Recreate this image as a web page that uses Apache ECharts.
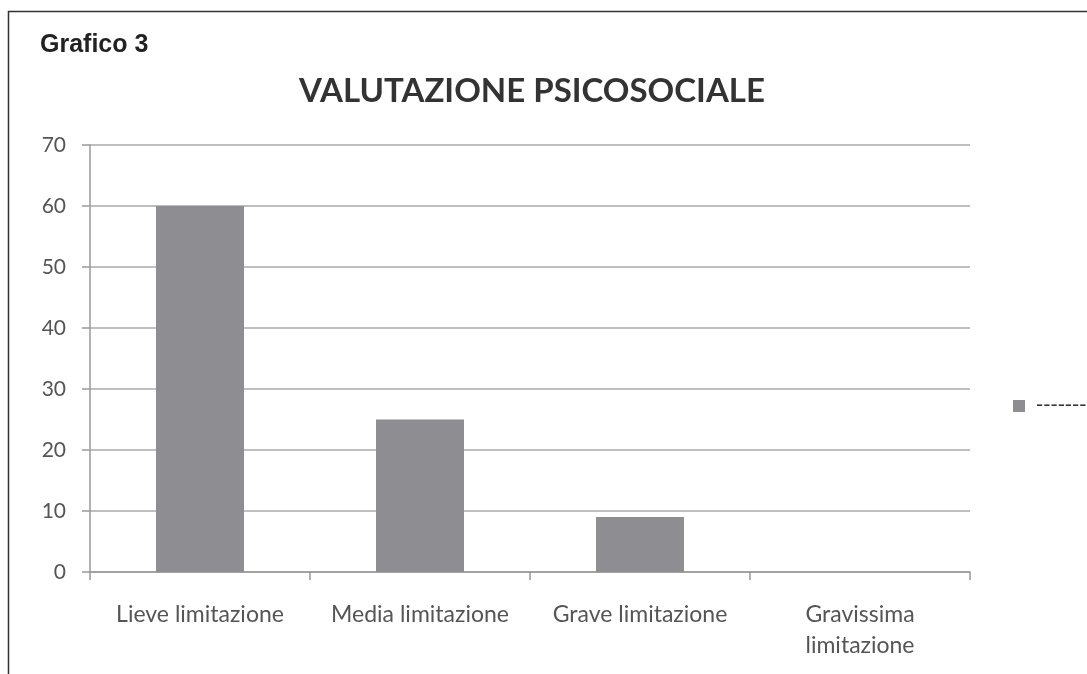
<!DOCTYPE html>
<html><head><meta charset="utf-8">
<script src="https://cdn.jsdelivr.net/npm/echarts@6/dist/echarts.min.js"></script>
<style>html,body{margin:0;padding:0;background:#fff}#c{width:1087px;height:674px}</style>
</head><body><div id="c"></div>
<script>
const categories = ['Lieve limitazione', 'Media limitazione', 'Grave limitazione', 'Gravissima\nlimitazione'];
const values = [60, 25, 9, 0];
const seriesName = '----------';
const chart = echarts.init(document.getElementById('c'));
chart.setOption({
  backgroundColor: '#fff',
  animation: false,
  title: [{
    text: 'Grafico 3', left: 35, top: 28,
    textStyle: {fontFamily: 'Liberation Sans', fontWeight: 'bold', fontSize: 25, color: '#222'}
  }, {
    text: 'VALUTAZIONE PSICOSOCIALE', left: 527, top: 70, textAlign: 'center',
    textStyle: {fontFamily: 'Lato', fontWeight: 'bold', fontSize: 33, color: '#333'}
  }],
  graphic: [{type: 'rect', shape: {x: 8.5, y: 11.5, width: 1200, height: 800}, style: {fill: 'none', stroke: '#333', lineWidth: 1.5}, silent: true}],
  legend: {
    left: 1008, top: 391, itemWidth: 12, itemHeight: 12, icon: 'rect', itemGap: 8,
    textStyle: {color: '#333', fontSize: 20, fontFamily: 'DejaVu Sans', padding: [0, 0, 0, 6]},
    data: [seriesName]
  },
  grid: {left: 90, right: 117, top: 145, bottom: 102},
  xAxis: {
    type: 'category', data: categories,
    axisLine: {lineStyle: {color: '#999', width: 1.5}},
    axisTick: {show: true, length: 8, lineStyle: {color: '#999', width: 1.5}},
    axisLabel: {color: '#555', fontFamily: 'Lato', fontSize: 23, margin: 27, lineHeight: 31, interval: 0}
  },
  yAxis: {
    type: 'value', min: 0, max: 70, interval: 10,
    axisLine: {show: true, lineStyle: {color: '#999', width: 1.5}},
    axisTick: {show: true, length: 8, lineStyle: {color: '#999', width: 1.5}},
    splitLine: {lineStyle: {color: '#aaa', width: 1.5}},
    axisLabel: {color: '#555', fontFamily: 'Lato', fontSize: 21, margin: 24}
  },
  series: [{
    name: seriesName, type: 'bar', data: values, barWidth: '40%',
    itemStyle: {color: '#8e8e92'}
  }]
});
</script></body></html>
